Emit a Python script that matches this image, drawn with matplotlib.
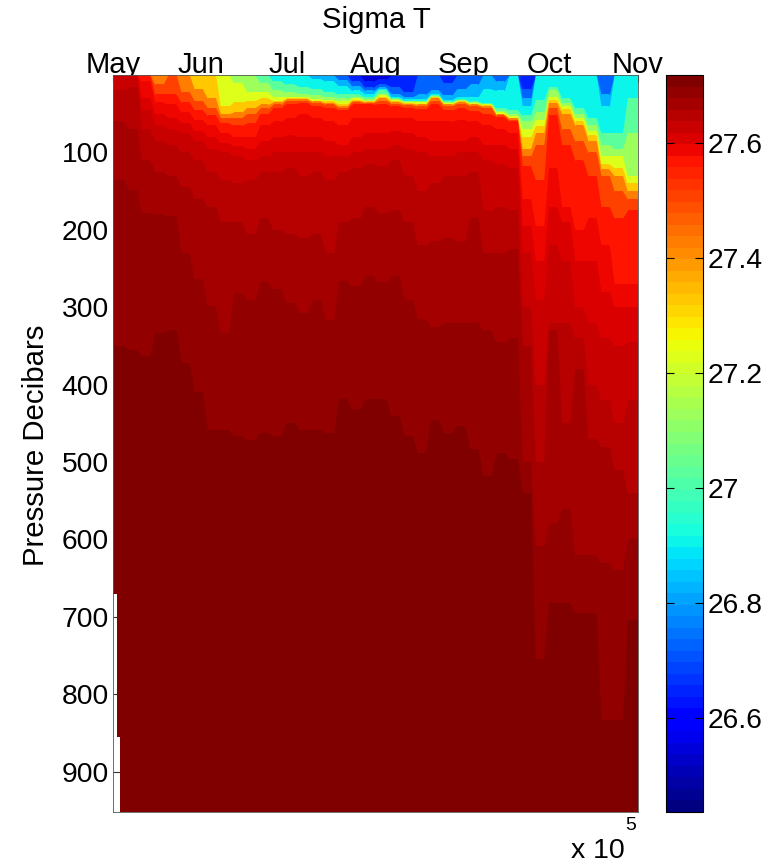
import numpy as np
import matplotlib
matplotlib.use("Agg")
import matplotlib.pyplot as plt
from matplotlib.colors import Normalize
from matplotlib.cm import ScalarMappable
from matplotlib.patches import Polygon

plt.rcParams['font.family'] = ['Liberation Sans', 'DejaVu Sans']

month_days = [121, 152, 182, 213, 244, 274, 305]
month_labels = ['May', 'Jun', 'Jul', 'Aug', 'Sep', 'Oct', 'Nov']
pressure_ticks = [100, 200, 300, 400, 500, 600, 700, 800, 900]
sigma_ticks = [26.6, 26.8, 27.0, 27.2, 27.4, 27.6]
sigma_ticklabels = ['26.6', '26.8', '27', '27.2', '27.4', '27.6']
sigma_min, sigma_max = 26.436, 27.718
n_profiles = 40
pressure_max = 952

# Depth (decibars) at which sigma-T first reaches each value, one per profile
d_2650 = [0]*40
d_2660 = [0]*19 + [8, 5] + [0]*19
d_2668 = [0]*18 + [8,16,12,15,22,0,0,10,0,0,0,0,0,18] + [0]*8
d_2678 = [0]*17 + [6,14,20,16,24,28,25,20,26,18,12,0,8,0,30,0,0,0,0,0,25,0,0]
d_2686 = [0]*15 + [5,8,14,20,24,18,28,31,31,24,32,28,28,18,20,0,40,0,0,0,0,0,40,0,0]
d_2696 = [0]*12 + [8,12,15,18,22,25,25,28,20,30,33,33,26,34,31,34,36,42,45,52,32,15,30,42,55,75,75,30]
d_2708 = [0]*11 + [10,20,22,24,26,28,30,28,31,24,31,34,34,27,35,32,35,37,46,50,60,48,20,36,50,65,90,95,75]
d_2718 = [0]*9 + [10,22,22,28,28,28,31,32,34,30,33,26,32,35,35,28,36,33,36,38,48,53,70,58,28,40,55,72,105,105,130]
d_2728 = [0]*8 + [40,35,33,30,33,30,30,33,34,37,32,34,28,33,36,37,29,37,34,37,39,50,55,80,66,32,44,60,78,115,120,140]
d_2738 = [0,0,0,0,0,0,18,30,50,48,42,38,35,31,31,34,36,40,33,35,30,35,37,38,30,38,35,38,40,51,56,95,75,36,50,65,85,122,130,150]
d_2748 = [0,0,0,12,0,22,33,42,55,55,50,43,38,33,33,36,38,42,35,36,33,37,39,40,33,40,37,40,42,52,58,105,90,42,70,85,100,130,150,160]
d_2755 = [0,0,0,25,25,35,45,52,62,65,62,50,42,37,36,40,42,45,38,38,37,40,42,44,38,45,43,46,50,54,60,118,135,52,90,110,130,170,185,175]
d_2758 = [0,0,8,35,38,48,58,65,75,80,80,65,60,55,50,55,60,65,55,55,55,55,55,60,60,60,58,60,65,70,75,160,195,120,170,200,185,220,270,270]
d_2760 = [0,0,30,50,55,62,72,80,88,92,95,85,80,78,80,80,85,90,80,75,75,72,75,80,85,85,85,80,90,90,95,195,240,170,190,240,240,280,300,300]
d_2762 = [0,0,45,65,70,75,85,95,100,105,110,105,100,100,100,100,105,105,100,95,95,90,95,100,105,105,100,100,110,115,120,230,290,220,240,300,320,340,350,345]
d_2764 = [20,15,70,85,90,100,110,125,135,140,135,125,125,120,130,125,135,125,120,115,118,110,130,150,140,130,130,125,175,170,175,300,400,320,320,340,400,420,450,420]
d_2766 = [60,70,110,125,130,145,160,170,190,190,205,185,200,205,210,205,230,190,185,170,178,175,190,220,215,210,215,185,230,230,225,350,500,330,450,380,470,480,510,540]
d_2768 = [135,148,178,180,182,230,264,299,333,281,290,268,277,294,307,290,316,266,273,260,268,260,290,315,325,320,320,320,330,345,340,500,609,579,560,620,620,630,640,600]
d_2770 = [350,355,363,333,329,372,410,458,458,466,471,462,466,449,458,458,462,419,432,419,419,440,466,488,445,462,453,483,518,488,496,540,755,682,682,695,695,833,833,704]

sigma_levels = [26.50, 26.60, 26.68, 26.78, 26.86, 26.96, 27.08, 27.18, 27.28, 27.38,
                27.48, 27.55, 27.58, 27.60, 27.62, 27.64, 27.66, 27.68, 27.70]
level_depths = [d_2650, d_2660, d_2668, d_2678, d_2686, d_2696, d_2708, d_2718, d_2728, d_2738,
                d_2748, d_2755, d_2758, d_2760, d_2762, d_2764, d_2766, d_2768, d_2770]

# Missing data at the start of the record (white notch, lower left)
gap_depths = [670, 855, 952]
gap_days = [1.3, 2.5]

W, H = 770, 866
fig = plt.figure(figsize=(W/100, H/100), dpi=100, facecolor='white')
ax = fig.add_axes([113/W, 1-812/H, 525/W, 737/H])
cax = fig.add_axes([666/W, 1-812/H, 37/W, 737/H])

cmap = plt.get_cmap('jet', 64)
norm = Normalize(sigma_min, sigma_max)

t0, t1 = month_days[0], month_days[-1]
edges = np.linspace(t0, t1, n_profiles + 1)
width = edges[1] - edges[0]
centers = 0.5*(edges[:-1] + edges[1:])
# each profile holds its depth over the middle of its column
xs = np.ravel(np.column_stack([centers - 0.32*width, centers + 0.32*width]))
xs = np.r_[t0, xs, t1]

clip_verts = [(t0, 0), (t1, 0), (t1, pressure_max),
              (t0 + gap_days[1], pressure_max), (t0 + gap_days[1], gap_depths[1]),
              (t0 + gap_days[0], gap_depths[1]), (t0 + gap_days[0], gap_depths[0]),
              (t0, gap_depths[0])]
clip = Polygon(clip_verts, transform=ax.transData)

for i, (lev, dep) in enumerate(zip(sigma_levels, level_depths)):
    nxt = sigma_levels[i+1] if i + 1 < len(sigma_levels) else sigma_max
    col = cmap(norm(0.5*(lev + nxt)))
    d = np.r_[dep[0], np.repeat(np.asarray(dep, dtype=float), 2), dep[-1]]
    coll = ax.fill_between(xs, d, pressure_max, color=col, lw=0, zorder=1+i*0.01)
    coll.set_clip_path(clip)

ax.set_xlim(t0, t1)
ax.set_ylim(pressure_max, 0)
ax.set_axisbelow(True)
ax.xaxis.tick_top()
ax.set_xticks(month_days)
ax.set_xticklabels(month_labels)
ax.set_yticks(pressure_ticks)
ax.tick_params(axis='both', direction='in', length=5, width=0.8, color='#333333')
ax.tick_params(axis='x', pad=-3, labelsize=21)
ax.tick_params(axis='y', pad=3, labelsize=20.3)
for s in ax.spines.values():
    s.set_linewidth(0.6)
    s.set_color('#555555')

cb = fig.colorbar(ScalarMappable(norm=norm, cmap=cmap), cax=cax)
cb.set_ticks(sigma_ticks)
cb.set_ticklabels(sigma_ticklabels)
cax.tick_params(axis='y', direction='in', left=True, right=True, length=6, width=0.8,
                labelsize=20.3, pad=3)
cb.outline.set_linewidth(0.8)

fig.text(376/W, 1-20/H, 'Sigma T', ha='center', va='center', fontsize=21.2)
fig.text(36/W, 1-445/H, 'Pressure Decibars', rotation=90, ha='center', va='center', fontsize=21.2)
fig.text(598/W, 1-851/H, 'x 10', ha='center', va='center', fontsize=20.5)
fig.text(631/W, 1-825/H, '5', ha='center', va='center', fontsize=14)

fig.savefig('out.png', dpi=100)
